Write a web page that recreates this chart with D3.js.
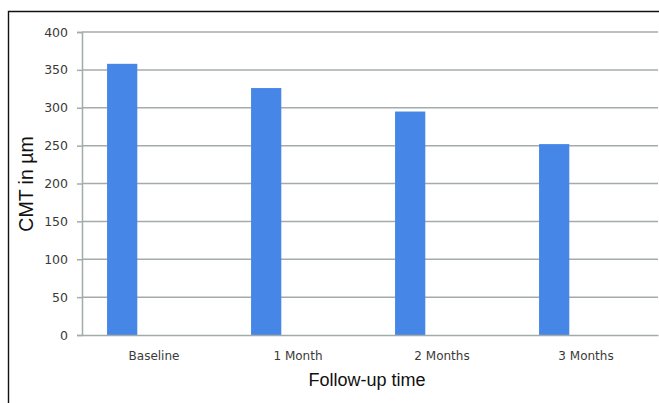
<!DOCTYPE html>
<html><head><meta charset="utf-8">
<script src="https://cdn.jsdelivr.net/npm/d3@7"></script>
<style>body{margin:0;background:#fff}svg{display:block}</style>
</head><body>
<script>
const categories = ["Baseline", "1 Month", "2 Months", "3 Months"];
const cmtValues = [358, 326, 295, 252];
const yTicks = [0, 50, 100, 150, 200, 250, 300, 350, 400];
const xTitle = "Follow-up time";
const yTitle = "CMT in \u00b5m";

(function () {
const W = 659, H = 403;
const svg = d3.select("body").append("svg").attr("width", W).attr("height", H);

// frame
svg.append("path").attr("d", `M8.5,${H+5} L8.5,11.5 L${W+5},11.5`)
  .attr("fill", "none").attr("stroke", "#111").attr("stroke-width", 1.4);

const mLeft = 82, mRight = 658, mTop = 32, mBottom = 335;
const x = d3.scaleBand().domain(categories).range([mLeft, mRight]).paddingInner(0).paddingOuter(0);
const y = d3.scaleLinear().domain([0, 400]).range([mBottom, mTop]);
const gridColor = "#a3acab";

// gridlines
svg.append("g").selectAll("line").data(yTicks.filter(t => t > 0)).join("line")
  .attr("x1", mLeft).attr("x2", mRight)
  .attr("y1", d => y(d)).attr("y2", d => y(d))
  .attr("stroke", gridColor).attr("stroke-width", 1.5);

// y axis
const ya = svg.append("g").attr("transform", `translate(${mLeft},0)`)
  .call(d3.axisLeft(y).tickValues(yTicks).tickSize(5).tickPadding(9));
ya.select(".domain").attr("stroke", gridColor).attr("stroke-width", 1.5);
ya.selectAll(".tick line").attr("stroke", gridColor).attr("stroke-width", 1.5);
ya.selectAll(".tick text").attr("font-family", "DejaVu Sans").attr("font-size", 12.5).attr("fill", "#3a3a3a");

// bars
const bw = x.bandwidth();
svg.append("g").selectAll("rect").data(categories).join("rect")
  .attr("x", (c) => x(c) + bw * 0.174)
  .attr("width", bw * 0.21)
  .attr("y", (c, i) => y(cmtValues[i]))
  .attr("height", (c, i) => y(0) - y(cmtValues[i]))
  .attr("fill", "#4686e6");

// x axis
const xa = svg.append("g").attr("transform", `translate(0,${mBottom})`)
  .call(d3.axisBottom(x).tickSize(0).tickPadding(16));
xa.select(".domain").attr("stroke", gridColor).attr("stroke-width", 1.5);
xa.selectAll(".tick text").attr("font-family", "DejaVu Sans").attr("font-size", 12).attr("fill", "#3a3a3a");

// titles
svg.append("text").attr("x", 367).attr("y", 386).attr("text-anchor", "middle")
  .attr("font-family", "Liberation Sans, Arial").attr("font-size", 18).attr("fill", "#111").text(xTitle);
svg.append("text").attr("transform", "translate(33,184) rotate(-90)").attr("text-anchor", "middle")
  .attr("font-family", "Liberation Sans, Arial").attr("font-size", 19.5).attr("fill", "#111").text(yTitle);
})();
</script>
</body></html>
